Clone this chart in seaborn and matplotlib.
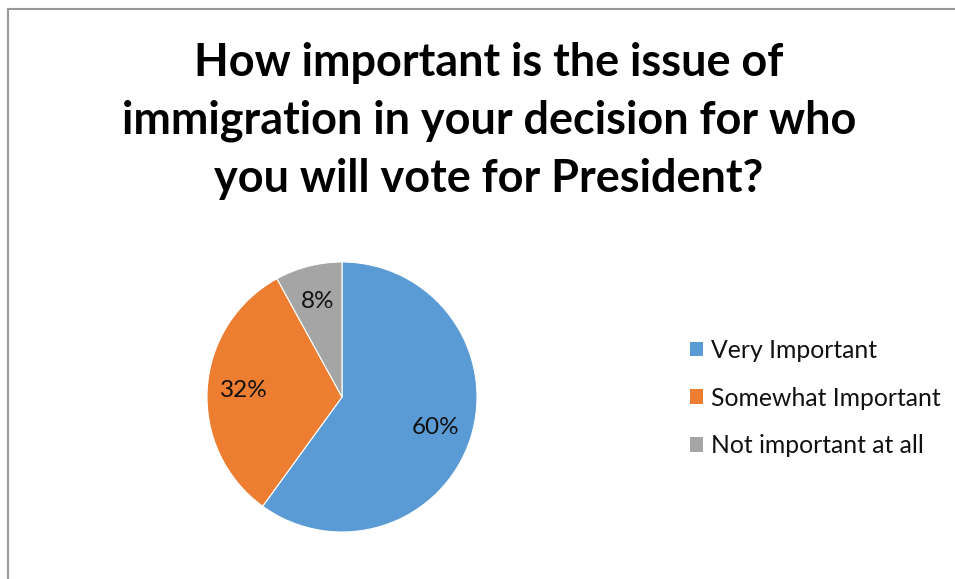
import matplotlib
matplotlib.use("Agg")
import matplotlib.pyplot as plt
import seaborn as sns
from matplotlib.lines import Line2D
from matplotlib.patches import Patch

# data
categories = ["Very Important", "Somewhat Important", "Not important at all"]
shares = [60, 32, 8]
colors = ["#5B9BD5", "#ED7D31", "#A5A5A5"]
title = "How important is the issue of\nimmigration in your decision for who\nyou will vote for President?"

sns.set_theme(style="white")
plt.rcParams['font.family'] = ['Lato', 'DejaVu Sans']

W, H = 955, 579
fig = plt.figure(figsize=(W / 100, H / 100), dpi=100)

# pie axes: center (342, 397), radius 135 px
cx, cy, r = 342, 397, 135
ax = fig.add_axes([(cx - r) / W, (H - cy - r) / H, 2 * r / W, 2 * r / H])
wedges, texts, autotexts = ax.pie(
    shares, colors=colors, startangle=90, counterclock=False,
    autopct=lambda p: f"{p:.0f}%", pctdistance=0.73,
    wedgeprops=dict(edgecolor="white", linewidth=0.8),
    textprops=dict(fontsize=17.5, color="#111111"))
ax.set_xlim(-1, 1)
ax.set_ylim(-1, 1)
ax.set_aspect("equal")

fig.text(489 / W, 1 - 121 / H, title, ha="center", va="center",
         fontsize=32.4, fontweight="bold", color="black", linespacing=1.45)

handles = [Patch(facecolor=c, edgecolor="none") for c in colors]
fig.legend(handles, categories, loc="center left",
           bbox_to_anchor=(668 / W, 1 - 398 / H), frameon=False,
           fontsize=17.8, handlelength=0.53, handleheight=0.53,
           handletextpad=0.3, labelspacing=1.0, labelcolor="#111111")

# chart border (top and left edges visible)
fig.add_artist(Line2D([8 / W, 1], [1 - 9 / H, 1 - 9 / H], color="#999999", lw=1.5))
fig.add_artist(Line2D([8 / W, 8 / W], [0, 1 - 9 / H], color="#999999", lw=1.5))

fig.savefig("out.png", dpi=100)
